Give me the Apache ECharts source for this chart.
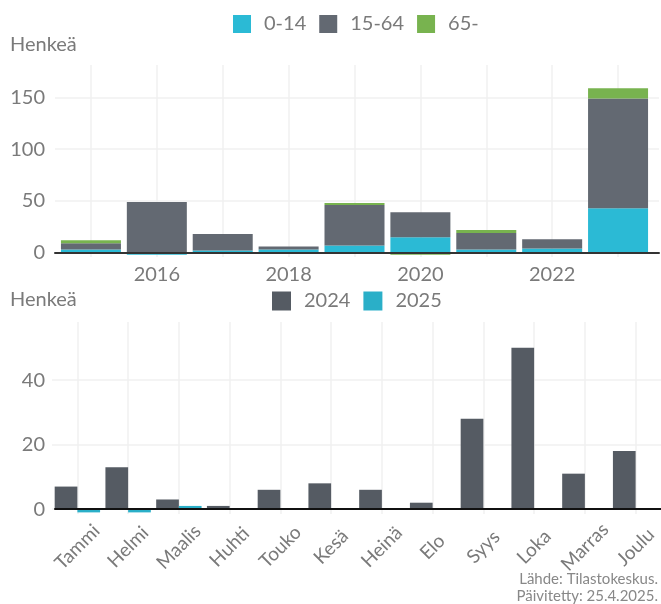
<!DOCTYPE html>
<html>
<head>
<meta charset="utf-8">
<script src="https://cdn.jsdelivr.net/npm/echarts@6/dist/echarts.min.js"></script>
<style>
  html, body { margin: 0; padding: 0; background: #fff; }
  #chart { width: 661px; height: 604px; }
</style>
</head>
<body>
<div id="chart"></div>
<script>
// top: yearly change by age group
const years = ['2015', '2016', '2017', '2018', '2019', '2020', '2021', '2022', '2023']
const age0to14 = [3, -2, 2, 3, 7, 15, 3, 4, 43]
const age15to64 = [6, 49, 16, 3, 39, 24, 16, 9, 106]
const age65plus = [3, 0, 0, 0, 2, -2, 3, 0, 10]
const topTicks = [0, 50, 100, 150]

// bottom: monthly change
const months = ['Tammi', 'Helmi', 'Maalis', 'Huhti', 'Touko', 'Kesä', 'Heinä', 'Elo', 'Syys', 'Loka', 'Marras', 'Joulu']
const values2024 = [7, 13, 3, 1, 6, 8, 6, 2, 28, 50, 11, 18]
const values2025 = [-1, -1, 1, 0, null, null, null, null, null, null, null, null]
const bottomTicks = [0, 20, 40]

const FONT = 'Lato, "Noto Sans", sans-serif'
const TEXT = '#7a7a7a'
const GRID_COLOR = '#f0f0f0'
const TOP_MIN = -4.2
const TOP_MAX = 181.4
const BOTTOM_MIN = -1.5
const BOTTOM_MAX = 58

const chart = echarts.init(document.getElementById('chart'), null, { renderer: 'canvas' })

function stackBar(name, data, color) {
  return {
    name,
    type: 'bar',
    stack: 'age',
    xAxisIndex: 2,
    yAxisIndex: 2,
    barWidth: 60,
    data,
    itemStyle: { color },
    emphasis: { disabled: true }
  }
}

// zero line drawn above the bars
function zeroLine(gridIndex, color) {
  return {
    type: 'value', gridIndex, min: 0, max: 1, z: 5,
    axisLine: { onZero: true, lineStyle: { color, width: 2 } },
    axisTick: { show: false },
    axisLabel: { show: false },
    splitLine: { show: false }
  }
}

const grid = (left, right, top, bottom) => ({ left, right, top, bottom, outerBoundsMode: 'none', containLabel: false })

chart.setOption({
  animation: false,
  textStyle: { fontFamily: FONT },
  grid: [
    grid(55, 2, 65, 347),   // top frame
    grid(52, 0, 322, 90),   // bottom chart
    grid(58, 10, 65, 347),  // top bars
    grid(55, 0, 322, 90)    // bottom frame
  ],
  legend: [
    {
      data: ['0-14', '15-64', '65-'],
      left: 233, top: 14, padding: 0,
      icon: 'rect', itemWidth: 18, itemHeight: 18, itemGap: 13,
      textStyle: { color: TEXT, fontSize: 20, fontFamily: FONT, padding: [0, 0, 0, 8] }
    },
    {
      data: ['2024', '2025'],
      left: 272, top: 291, padding: 0,
      icon: 'rect', itemWidth: 19, itemHeight: 19, itemGap: 13,
      textStyle: { color: TEXT, fontSize: 20, fontFamily: FONT, padding: [0, 0, 0, 8] }
    }
  ],
  xAxis: [
    zeroLine(0, '#333'),
    {
      type: 'category', gridIndex: 1,
      data: months,
      axisLine: { show: false, onZero: true },
      axisTick: { show: false, alignWithLabel: true },
      axisLabel: { interval: 0, rotate: 45, align: 'center', verticalAlign: 'middle', margin: 33, color: TEXT, fontSize: 19, fontFamily: FONT },
      splitLine: { show: true, interval: 0, alignWithLabel: true, lineStyle: { color: GRID_COLOR, width: 1.5 } }
    },
    {
      type: 'category', gridIndex: 2,
      data: years,
      axisLine: { show: false, onZero: true },
      axisTick: { show: false, alignWithLabel: true },
      axisLabel: { interval: i => i % 2 === 1, color: TEXT, fontSize: 20, fontFamily: FONT, margin: 8 },
      splitLine: { show: true, interval: 0, alignWithLabel: true, lineStyle: { color: GRID_COLOR, width: 1.5 } }
    },
    zeroLine(3, '#111')
  ],
  yAxis: [
    {
      type: 'value', gridIndex: 0,
      min: TOP_MIN, max: TOP_MAX,
      axisLine: { show: false },
      axisTick: { show: false, customValues: topTicks },
      axisLabel: { customValues: topTicks, color: TEXT, fontSize: 20, fontFamily: FONT, margin: 10 },
      splitLine: { show: true, lineStyle: { color: GRID_COLOR, width: 1.5 } }
    },
    {
      type: 'value', gridIndex: 1,
      min: BOTTOM_MIN, max: BOTTOM_MAX,
      axisLine: { show: false },
      axisTick: { show: false, customValues: bottomTicks },
      axisLabel: { customValues: bottomTicks, color: TEXT, fontSize: 20, fontFamily: FONT, margin: 7 },
      splitLine: { show: true, lineStyle: { color: GRID_COLOR, width: 1.5 } }
    },
    { type: 'value', gridIndex: 2, min: TOP_MIN, max: TOP_MAX, show: false, splitLine: { show: false } },
    { type: 'value', gridIndex: 3, min: BOTTOM_MIN, max: BOTTOM_MAX, show: false, splitLine: { show: false } }
  ],
  series: [
    stackBar('0-14', age0to14, '#2bbad5'),
    stackBar('15-64', age15to64, '#636972'),
    stackBar('65-', age65plus, '#78b34f'),
    {
      name: '2024', type: 'bar', xAxisIndex: 1, yAxisIndex: 1,
      barWidth: 22.7, barGap: '0%',
      data: values2024,
      itemStyle: { color: '#555b63' },
      emphasis: { disabled: true }
    },
    {
      name: '2025', type: 'bar', xAxisIndex: 1, yAxisIndex: 1,
      barWidth: 22.7, barGap: '0%',
      data: values2025,
      itemStyle: { color: '#2aafc8' },
      emphasis: { disabled: true }
    }
  ],
  graphic: [
    { type: 'text', left: 10, top: 35, style: { text: 'Henkeä', fill: TEXT, font: '20px ' + FONT } },
    { type: 'text', left: 10, top: 290, style: { text: 'Henkeä', fill: TEXT, font: '20px ' + FONT } },
    { type: 'text', right: 3, top: 572, style: { text: 'Lähde: Tilastokeskus.', fill: '#888', font: '15px ' + FONT } },
    { type: 'text', right: 3, top: 589, style: { text: 'Päivitetty: 25.4.2025.', fill: '#888', font: '15px ' + FONT } }
  ]
})

window.addEventListener('resize', () => chart.resize())
</script>
</body>
</html>
